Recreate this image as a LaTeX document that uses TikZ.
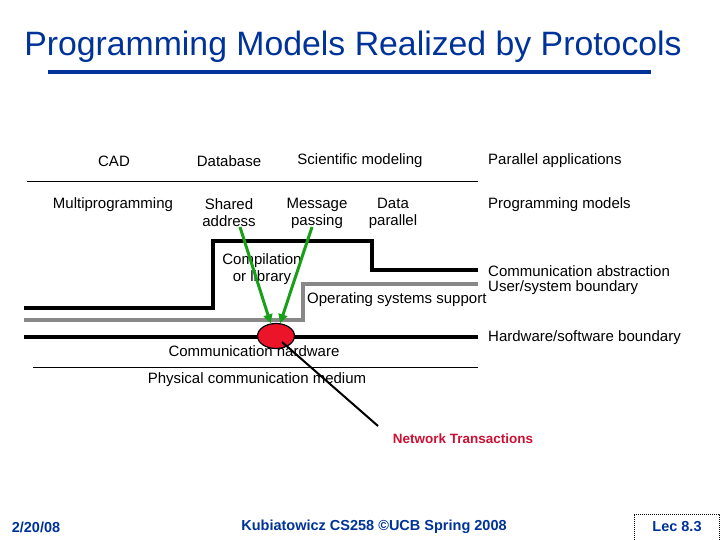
\documentclass[tikz,border=0pt]{standalone}
\usepackage{fontspec}
\setmainfont{Liberation Sans}
\usetikzlibrary{shapes.geometric,arrows.meta}
\definecolor{slideblue}{RGB}{0,51,153}
\definecolor{nigreen}{RGB}{24,160,24}
\definecolor{nired}{RGB}{235,20,40}
\definecolor{ntred}{RGB}{204,16,51}
\definecolor{osgray}{RGB}{136,136,136}
\tikzset{
    lbl/.style={font=\fontsize{15}{17}\selectfont, inner sep=0pt, align=center},
    rlbl/.style={lbl, anchor=west},
    foot/.style={font=\fontsize{14.5}{16}\selectfont\bfseries, text=slideblue, inner sep=0pt},
    layer/.style={line width=4pt},
    green arrow/.style={nigreen, line width=3pt, -{Triangle[length=9pt,width=9pt]}}
}
\begin{document}
\begin{tikzpicture}[x=1pt, y=-1pt]
    \useasboundingbox (0, 0) rectangle (720, 540);

    \node [font=\fontsize{33.8}{38}\selectfont, text=slideblue, inner sep=0pt] (title) at (353, 47) {Programming Models Realized by Protocols};
    \draw [slideblue, line width=4pt] (48, 72) -- (651, 72);

    \node [lbl] (cad) at (114, 161) {CAD};
    \node [lbl] (database) at (229, 161) {Database};
    \node [lbl] (scimod) at (360, 161) {Scientific modeling};
    \node [rlbl] (parapps) at (488, 161) {Parallel applications};

    \draw (27, 181) -- (478, 181);

    \node [lbl] (multiprog) at (113, 205) {Multiprogramming};
    \node [lbl] (shared) at (229, 213) {Shared\\address};
    \node [lbl] (msgpass) at (317, 213) {Message\\passing};
    \node [lbl] (datapar) at (393, 213) {Data\\parallel};
    \node [rlbl] (progmodels) at (488, 205) {Programming models};

    \node [lbl] (compile) at (262, 269) {Compilation\\or library};
    \node [lbl, anchor=west] (ossupport) at (307, 300) {Operating systems support};
    \node [rlbl] (commabs) at (488, 271) {Communication abstraction};
    \node [rlbl] (userbound) at (488, 288) {User/system boundary};
    \node [rlbl] (hwbound) at (488, 338) {Hardware/software boundary};

    \node [lbl] (commhw) at (254, 351) {Communication hardware};
    \node [lbl] (physmed) at (257, 380) {Physical communication medium};

    % layer boundaries
    \draw [layer, black] (24, 308) -- (213, 308) -- (213, 241) -- (372, 241) -- (372, 270) -- (478, 270);
    \draw [layer, osgray] (24, 320) -- (303, 320) -- (303, 284) -- (478, 284);
    \draw [layer, black] (24, 337) -- (478, 337);
    \draw (33, 367) -- (478, 367);

    \node [ellipse, draw, line width=1.2pt, fill=nired, minimum width=37pt, minimum height=25pt] (ni) at (276, 336) {};

    \coordinate (fromshared) at (240, 227);
    \coordinate (frommsg) at (312, 227);
    \draw [green arrow] (fromshared) -- (ni.113);
    \draw [green arrow] (frommsg) -- (ni.72);

    \node [font=\fontsize{13.5}{16}\selectfont\bfseries, text=ntred, inner sep=0pt] (nettrans) at (463, 439) {Network Transactions};
    \coordinate (ntend) at (378, 426);
    \draw [line width=2pt] ([shift={(6pt,-6pt)}]ni.center) -- (ntend);

    % footer
    \node [foot] (date) at (36, 527) {2/20/08};
    \node [foot] (course) at (374, 527) {Kubiatowicz CS258 ©UCB Spring 2008};
    \node [foot] (lecture) at (677, 527) {Lec 8.3};
    \draw [densely dotted, line width=1pt] (634, 540) -- (634, 514) -- (719, 514) -- (719, 540);
\end{tikzpicture}
\end{document}
